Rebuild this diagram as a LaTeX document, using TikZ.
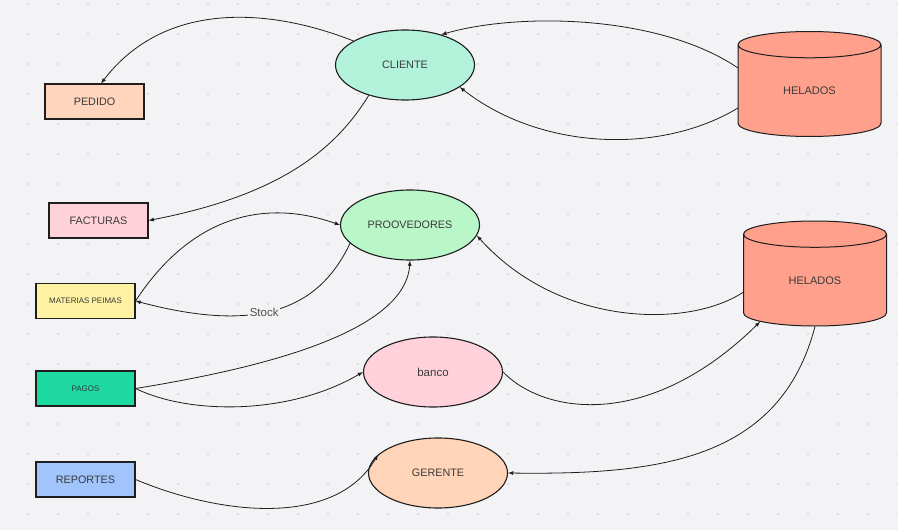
\documentclass[tikz,border=0pt]{standalone}
\usepackage{fontspec}
\setmainfont{Liberation Sans}
\usetikzlibrary{shapes.geometric}
\definecolor{bgcolor}{HTML}{F3F3F5}
\definecolor{dotcolor}{HTML}{C9C9CE}
\definecolor{linecolor}{HTML}{1E1E1E}
\definecolor{textcolor}{HTML}{3A3A3A}
\definecolor{pedidocolor}{HTML}{FFD5BD}
\definecolor{facturacolor}{HTML}{FFD1D8}
\definecolor{materiacolor}{HTML}{FFF2A3}
\definecolor{pagocolor}{HTML}{1ED9A1}
\definecolor{reportecolor}{HTML}{A1C4FD}
\definecolor{clientecolor}{HTML}{B2F2DB}
\definecolor{proveedorcolor}{HTML}{B9F7C9}
\definecolor{bancocolor}{HTML}{FFD1DA}
\definecolor{gerentecolor}{HTML}{FFD4B8}
\definecolor{heladocolor}{HTML}{FFA08C}
\tikzset{
	entity/.style = {
		draw=linecolor, line width=1.1pt, inner sep=0pt,
		minimum width=99pt, minimum height=35pt,
		text=textcolor, font=\fontsize{10.8}{12}\selectfont
	},
	process/.style = {
		ellipse, draw=linecolor, line width=1.1pt, inner sep=0pt,
		minimum width=139pt, minimum height=70pt,
		text=textcolor, font=\fontsize{10.8}{12}\selectfont
	},
	store/.style = {
		cylinder, shape border rotate=90, aspect=0.5, anchor=shape center,
		draw=linecolor, line width=1pt, fill=heladocolor, inner sep=0pt,
		minimum width=143pt, minimum height=105pt,
		text=textcolor, font=\fontsize{11}{12}\selectfont
	},
	flow/.style = {-latex, line width=0.8pt, draw=linecolor},
	small/.style = {font=\fontsize{8}{9}\selectfont}
}
\begin{document}
\begin{tikzpicture}[x=1pt, y=-1pt]
	\fill[bgcolor] (0,0) rectangle (898,530);
	\useasboundingbox (0,0) rectangle (898,530);
	\foreach \x in {28,58,...,898}
		\foreach \y in {4,34,...,530}
			\fill[dotcolor] (\x,\y) circle (0.9);

	% left column
	\node[entity, fill=pedidocolor] (ped) at (94.5,101.5) {PEDIDO};
	\node[entity, fill=facturacolor] (fac) at (98.5,220.5) {FACTURAS};
	\node[entity, fill=materiacolor, small] (mat) at (85.5,301) {MATERIAS PEIMAS};
	\node[entity, fill=pagocolor, small] (pag) at (85.5,388.5) {PAGOS};
	\node[entity, fill=reportecolor] (rep) at (85.5,479.5) {REPORTES};

	% middle
	\node[process, fill=clientecolor] (cli) at (405,65) {CLIENTE};
	\node[process, fill=proveedorcolor] (pro) at (410,225) {PROOVEDORES};
	\node[process, fill=bancocolor, font=\fontsize{11.5}{12}\selectfont] (ban) at (433,372) {banco};
	\node[process, fill=gerentecolor] (ger) at (438,473) {GERENTE};

	% stores
	\node[store] (hel1) at (809.5,84) {HELADOS};
	\node[store] (hel2) at (815,273.5) {HELADOS};

	% flows
	\draw[flow] (cli.155) .. controls (270,8) and (165,0) .. (ped.70);
	\draw[flow] ([xshift=-71.5pt, yshift=16pt]hel1.shape center) .. controls (660,15) and (520,12) .. (cli.40);
	\draw[flow] ([xshift=-71.5pt, yshift=-24pt]hel1.shape center) .. controls (660,155) and (540,150) .. (cli.338);
	\draw[flow] (cli.220) .. controls (335,150) and (280,195) .. (fac.east);
	\draw[flow] (mat.east) .. controls (185,225) and (255,195) .. (pro.west);
	\draw[flow] (pro.197) .. controls (315,318) and (245,330) ..
		node[pos=0.53, fill=bgcolor, inner sep=1.5pt, text=textcolor!90,
		font=\fontsize{11.5}{12}\selectfont] (stk) {Stock} (mat.east);
	\draw[flow] (pag.east) .. controls (250,370) and (405,335) .. (pro.south);
	\draw[flow] (pag.east) .. controls (190,415) and (290,415) .. (ban.west);
	\draw[flow] (ban.east) .. controls (545,415) and (650,430) .. (hel2.217);
	\draw[flow] ([xshift=-71.5pt, yshift=-18.5pt]hel2.shape center) .. controls (690,328) and (560,328) .. (pro.351);
	\draw[flow] (hel2.south) .. controls (780,460) and (660,475) .. (ger.east);
	\draw[flow] (rep.east) .. controls (220,515) and (335,528) .. (ger.163);
\end{tikzpicture}
\end{document}
